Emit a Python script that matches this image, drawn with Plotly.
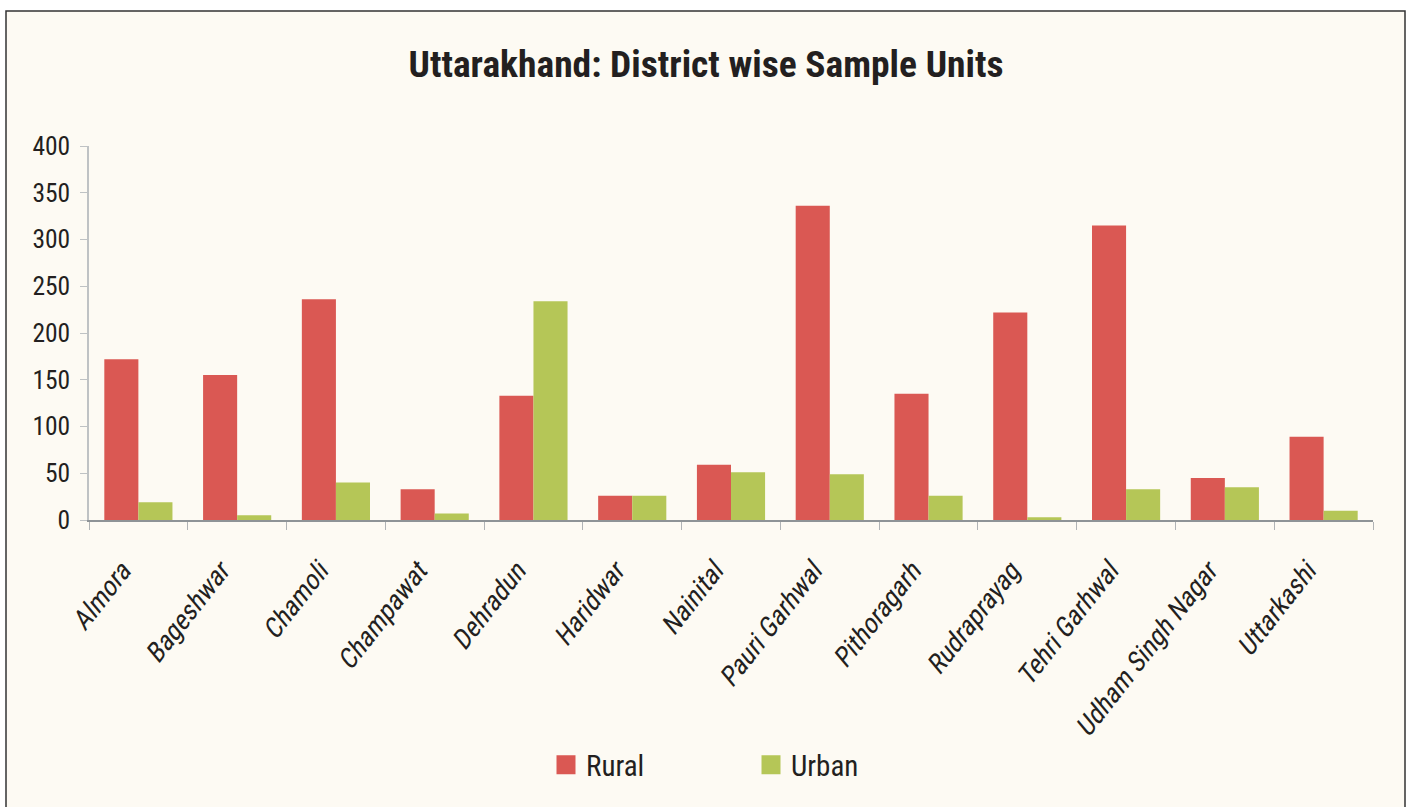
import plotly.graph_objects as go

districts = ["Almora", "Bageshwar", "Chamoli", "Champawat", "Dehradun", "Haridwar",
             "Nainital", "Pauri Garhwal", "Pithoragarh", "Rudraprayag", "Tehri Garhwal",
             "Udham Singh Nagar", "Uttarkashi"]
rural = [172, 155, 236, 33, 133, 26, 59, 336, 135, 222, 315, 45, 89]
urban = [19, 5, 40, 7, 234, 26, 51, 49, 26, 3, 33, 35, 10]
y_ticks = [0, 50, 100, 150, 200, 250, 300, 350, 400]
series_names = ["Rural", "Urban"]
series_colors = ["#DA5853", "#B5C657"]

FONT = "Roboto Condensed, Liberation Sans Narrow, Arial Narrow, sans-serif"
TXT = "#231F20"
BG = "#FDFAF3"

W, H = 1411, 807
L, R, T, B = 89, 38, 146, 287
pw, ph = W - L - R, H - T - B

fig = go.Figure()
for name, vals, col in zip(series_names, [rural, urban], series_colors):
    fig.add_trace(go.Bar(x=districts, y=vals, name=name, marker_color=col,
                         marker_line_width=0, showlegend=False))
# legend-only entries with larger square swatches
for name, col in zip(series_names, series_colors):
    fig.add_trace(go.Scatter(x=[None], y=[None], mode="markers", name=name,
                             marker=dict(symbol="square", size=16, color=col,
                                         line=dict(color=col, width=3)),
                             showlegend=True))


def px_x(p):
    return (p - L) / pw


def px_y(p):
    return (H - B - p) / ph


fig.update_layout(
    width=W, height=H,
    margin=dict(l=L, r=R, t=T, b=B, autoexpand=False),
    paper_bgcolor="#FFFFFF", plot_bgcolor=BG,
    barmode="group", bargap=0.31, bargroupgap=0,
    title=dict(text="<b>Uttarakhand: District wise Sample Units</b>",
               x=706 / W, xref="container", xanchor="center",
               y=1 - 64 / H, yref="container", yanchor="middle",
               font=dict(family=FONT, size=37.5, color=TXT)),
    font=dict(family=FONT, color=TXT),
    legend=dict(orientation="h", x=546 / W, xref="container", xanchor="left",
                y=1 - 765 / H, yref="container", yanchor="middle",
                font=dict(family=FONT, size=29, color=TXT),
                entrywidth=160, entrywidthmode="pixels", itemsizing="trace",
                bgcolor="rgba(0,0,0,0)"),
    xaxis=dict(showgrid=False, showline=True, linecolor="#8E9396", linewidth=1.5,
               automargin=False,
               ticks="outside", tickson="boundaries", ticklen=8, tickcolor="#B0B3B5",
               tickangle=-52,
               tickfont=dict(family=FONT, size=27, color=TXT),
               ticklabelstandoff=23, ticklabelshift=-17),
    yaxis=dict(range=[0, 400], tickvals=y_ticks, showgrid=False, zeroline=False,
               automargin=False,
               showline=True, linecolor="#BFC2C4", linewidth=1.5,
               ticks="outside", ticklen=7, tickcolor="#BFC2C4",
               tickfont=dict(family=FONT, size=25.5, color=TXT),
               ticklabelstandoff=5),
    shapes=[dict(type="rect", xref="paper", yref="paper",
                 x0=px_x(6), x1=px_x(1405), y0=px_y(830), y1=px_y(11),
                 line=dict(color="#333333", width=1.5), fillcolor=BG,
                 layer="below")],
)

# remove page margin; slant the category labels (condensed font has no italic face)
post = """
document.body.style.margin='0px';
var gd = document.getElementById('{plot_id}');
gd.querySelectorAll('.xtick text').forEach(function(t){
  var x = parseFloat(t.getAttribute('x')) || 0;
  var y = parseFloat(t.getAttribute('y')) || 0;
  var tr = t.getAttribute('transform') || '';
  t.setAttribute('transform', tr + ' translate(' + x + ',' + y + ') skewX(-12) translate(' + (-x) + ',' + (-y) + ')');
});
"""

fig.write_html("out.html", post_script=post, config={"displayModeBar": False})
